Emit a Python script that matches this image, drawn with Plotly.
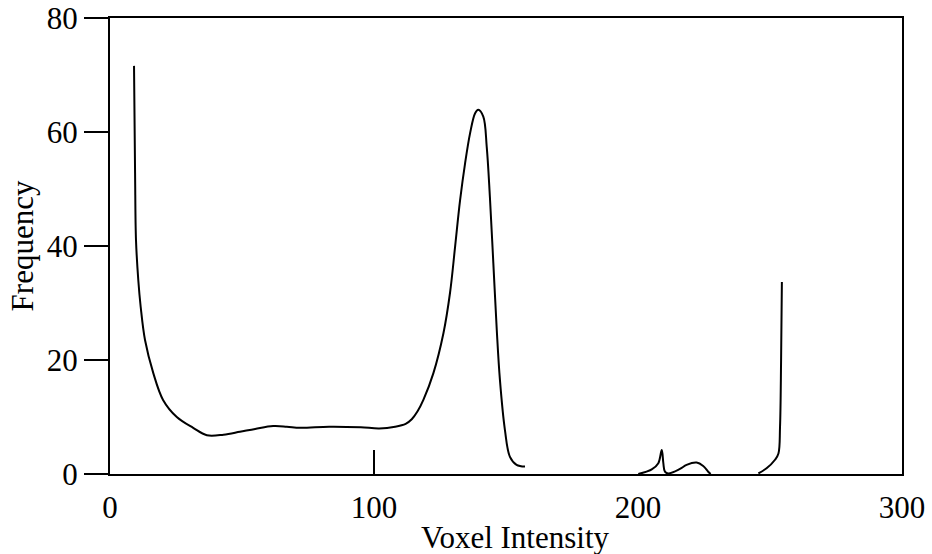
import plotly.graph_objects as go

# Voxel intensity histogram (three curve segments separated by gaps)
intensity = [9.1, 9.5, 9.85, 10.72, 11.63, 13.26, 16.4, 20.1, 25.3, 31.5, 36.7, 43, 49.2, 55, 61.8, 67, 72,
             83, 95, 102, 108, 112, 114.3, 116.5, 118.7, 122.5, 126.3, 128.8, 130.7, 132.6, 134.5, 136.4, 138.3,
             139.5, 141.4, 142.7, 143.9, 145.2, 146.5, 147.7, 149.6, 151.5, 154, 157.2,
             None,
             200.1, 205.2, 207.7, 209, 209.6, 210.2, 211.5, 215.9, 218.4, 222.2, 224.7, 226.6, 227.5,
             None,
             245.6, 248.7, 251.9, 253.2, 253.8, 254.2, 254.5]
frequency = [71.6, 52.8, 41, 34, 29.3, 23.5, 17.7, 13.0, 10.0, 8.1, 6.8, 6.9, 7.4, 7.9, 8.4, 8.3, 8.1,
             8.3, 8.2, 8.0, 8.3, 8.8, 9.6, 11.0, 13, 17.7, 24.7, 31.8, 39.8, 48, 54.5, 59.8, 63.3,
             63.9, 62.7, 57.4, 48.6, 37, 25.3, 16.5, 7.7, 3.0, 1.6, 1.3,
             None,
             0, 0.8, 1.9, 4.2, 1.9, 0.4, 0.1, 0.9, 1.6, 2.0, 1.4, 0.4, 0,
             None,
             0.1, 1.0, 2.5, 3.6, 8.3, 20, 33.7]

x_ticks = [0, 100, 200, 300]
y_ticks = [0, 20, 40, 60, 80]
x_inner_tick = [100]
x_title = "Voxel Intensity"
y_title = "Frequency"

FONT = "Liberation Serif, Times New Roman, serif"

fig = go.Figure()
fig.add_trace(go.Scatter(
    x=intensity, y=frequency, mode="lines",
    line=dict(color="black", width=2, shape="spline", smoothing=1.0),
    connectgaps=False, showlegend=False, hoverinfo="skip",
))
# invisible trace to anchor overlay axis carrying the single inner tick
fig.add_trace(go.Scatter(x=[0, 300], y=[0, 0], xaxis="x2", mode="lines",
                         line=dict(width=0), showlegend=False, hoverinfo="skip"))

fig.update_layout(
    width=932, height=554,
    margin=dict(l=110, r=30, t=18, b=80),
    paper_bgcolor="white", plot_bgcolor="white",
    font=dict(family=FONT, size=31, color="black"),
    xaxis=dict(
        range=[0, 300], tickvals=x_ticks, ticks="", showgrid=False, zeroline=False,
        showline=True, linecolor="black", linewidth=2, mirror=True,
        ticklabelstandoff=5, automargin=False,
        tickfont=dict(family=FONT, size=31),
    ),
    xaxis2=dict(
        range=[0, 300], overlaying="x", anchor="y", side="bottom", matches="x",
        tickvals=x_inner_tick, ticks="inside", ticklen=24, tickwidth=2, tickcolor="black",
        showticklabels=False, showgrid=False, zeroline=False, showline=False, automargin=False,
    ),
    yaxis=dict(
        range=[0, 80], tickvals=y_ticks, ticks="outside", ticklen=24, tickwidth=2,
        tickcolor="black", showgrid=False, zeroline=False, automargin=False,
        showline=True, linecolor="black", linewidth=2, mirror=True,
        title=dict(text=y_title, font=dict(family=FONT, size=31), standoff=4),
        tickfont=dict(family=FONT, size=31),
    ),
    annotations=[dict(
        text=x_title, xref="paper", yref="paper", x=0.511, y=-0.14,
        xanchor="center", yanchor="middle", showarrow=False,
        font=dict(family=FONT, size=31, color="black"),
    )],
)

fig.write_html("out.html", config={"displayModeBar": False},
               post_script="document.body.style.margin='0';document.body.style.overflow='hidden';")
